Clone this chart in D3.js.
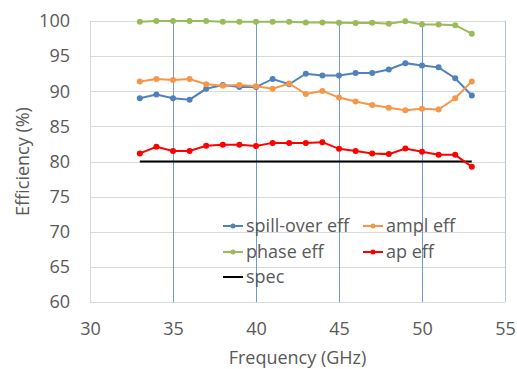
<!DOCTYPE html>
<html>
<head>
<meta charset="utf-8">
<script src="https://cdn.jsdelivr.net/npm/d3@7"></script>
<style>
  body { margin: 0; background: #fff; }
  text { font-family: "Open Sans", "Liberation Sans", sans-serif; fill: #595959; }
</style>
</head>
<body>
<div id="chart"></div>
<script>
const freq = [33, 34, 35, 36, 37, 38, 39, 40, 41, 42, 43, 44, 45, 46, 47, 48, 49, 50, 51, 52, 53]
const spillOver = [89.0, 89.55, 89.0, 88.8, 90.35, 90.9, 90.6, 90.6, 91.75, 91.0, 92.5, 92.25, 92.25, 92.6, 92.6, 93.1, 94.0, 93.65, 93.4, 91.85, 89.4]
const ampl = [91.4, 91.75, 91.6, 91.75, 91.0, 90.8, 90.9, 90.7, 90.35, 91.1, 89.6, 90.05, 89.1, 88.55, 88.05, 87.65, 87.3, 87.5, 87.4, 89.0, 91.4]
const phase = [99.9, 100.0, 100.0, 100.0, 100.0, 99.9, 99.9, 99.9, 99.9, 99.9, 99.8, 99.8, 99.75, 99.7, 99.75, 99.6, 99.95, 99.5, 99.5, 99.4, 98.2]
const ap = [81.15, 82.1, 81.5, 81.5, 82.25, 82.4, 82.4, 82.2, 82.65, 82.65, 82.65, 82.75, 81.8, 81.5, 81.15, 81.05, 81.85, 81.4, 80.95, 80.95, 79.25]
const spec = [80, 80]
const specFreq = [33, 53]
const xTicks = [30, 35, 40, 45, 50, 55]
const yTicks = [60, 65, 70, 75, 80, 85, 90, 95, 100]

const series = [
    {name: "spill-over eff", values: spillOver, color: "#4f81bd"},
    {name: "ampl eff", values: ampl, color: "#f79646"},
    {name: "phase eff", values: phase, color: "#9bbb59"},
    {name: "ap eff", values: ap, color: "#ff0000"}
]

const width = 517, height = 369
const margin = {top: 21, right: 12, bottom: 67, left: 90}
const w = width - margin.left - margin.right
const h = height - margin.top - margin.bottom
const fontSize = "18px"

const svg = d3.select("#chart")
    .append("svg")
    .attr("width", width)
    .attr("height", height)

const g = svg.append("g")
    .attr("transform", `translate(${margin.left}, ${margin.top})`)

const xScale = d3.scaleLinear().domain([30, 55]).range([0, w])
const yScale = d3.scaleLinear().domain([60, 100]).range([h, 0])

// horizontal grid
g.selectAll(".hgrid")
    .data(yTicks)
    .enter()
    .append("line")
    .attr("class", "hgrid")
    .attr("x1", 0)
    .attr("x2", w)
    .attr("y1", d => Math.round(yScale(d)) + 0.5)
    .attr("y2", d => Math.round(yScale(d)) + 0.5)
    .attr("stroke", "#d9d9d9")

// vertical grid (blue in the original)
g.selectAll(".vgrid")
    .data(xTicks.slice(1))
    .enter()
    .append("line")
    .attr("class", "vgrid")
    .attr("x1", d => Math.round(xScale(d)) + 0.5)
    .attr("x2", d => Math.round(xScale(d)) + 0.5)
    .attr("y1", 0)
    .attr("y2", h)
    .attr("stroke", d => d === 55 ? "#b4c7e7" : "#6f9bd3")

// left axis line
g.append("line")
    .attr("x1", 0.5).attr("x2", 0.5)
    .attr("y1", 0).attr("y2", h)
    .attr("stroke", "#d9d9d9")

const yAxis = d3.axisLeft(yScale).tickValues(yTicks).tickSize(0).tickPadding(20)
g.append("g")
    .attr("class", "axis y-axis")
    .call(yAxis)
    .call(s => s.select(".domain").remove())
    .selectAll("text")
    .style("font-size", fontSize)
    .attr("fill", "#595959")

const xAxis = d3.axisBottom(xScale).tickValues(xTicks).tickSize(0).tickPadding(20)
g.append("g")
    .attr("class", "axis x-axis")
    .attr("transform", `translate(0, ${h})`)
    .call(xAxis)
    .call(s => s.select(".domain").remove())
    .selectAll("text")
    .style("font-size", fontSize)
    .attr("fill", "#595959")

// spec line
g.append("path")
    .datum(specFreq.map((f, i) => [f, spec[i]]))
    .attr("fill", "none")
    .attr("stroke", "#000")
    .attr("stroke-width", 2)
    .attr("d", d3.line().x(d => xScale(d[0])).y(d => yScale(d[1])))

const line = d3.line()
    .x(d => xScale(d[0]))
    .y(d => yScale(d[1]))

series.forEach(s => {
    const pts = freq.map((f, i) => [f, s.values[i]])
    g.append("path")
        .datum(pts)
        .attr("fill", "none")
        .attr("stroke", s.color)
        .attr("stroke-width", 2)
        .attr("d", line)
    g.selectAll(null)
        .data(pts)
        .enter()
        .append("circle")
        .attr("cx", d => xScale(d[0]))
        .attr("cy", d => yScale(d[1]))
        .attr("r", 3)
        .attr("fill", s.color)
})

// legend
const legendItems = [
    {name: "spill-over eff", color: "#4f81bd", x: 223, y: 226, marker: true},
    {name: "ampl eff", color: "#f79646", x: 363, y: 226, marker: true},
    {name: "phase eff", color: "#9bbb59", x: 223, y: 252, marker: true},
    {name: "ap eff", color: "#ff0000", x: 363, y: 252, marker: true},
    {name: "spec", color: "#000", x: 223, y: 277, marker: false}
]
const legend = svg.append("g")
legendItems.forEach(d => {
    legend.append("line")
        .attr("x1", d.x).attr("x2", d.x + 20)
        .attr("y1", d.y).attr("y2", d.y)
        .attr("stroke", d.color)
        .attr("stroke-width", 2)
    if (d.marker) {
        legend.append("circle")
            .attr("cx", d.x + 10).attr("cy", d.y).attr("r", 2.5)
            .attr("fill", d.color)
    }
    legend.append("text")
        .attr("x", d.x + 23)
        .attr("y", d.y)
        .attr("dy", "0.35em")
        .style("font-size", fontSize)
        .text(d.name)
})

svg.append("text")
    .attr("x", margin.left + w / 2)
    .attr("y", 364)
    .attr("text-anchor", "middle")
    .style("font-size", fontSize)
    .text("Frequency (GHz)")

svg.append("text")
    .attr("transform", `translate(29, ${margin.top + h / 2}) rotate(-90)`)
    .attr("text-anchor", "middle")
    .style("font-size", fontSize)
    .text("Efficiency (%)")
</script>
</body>
</html>
